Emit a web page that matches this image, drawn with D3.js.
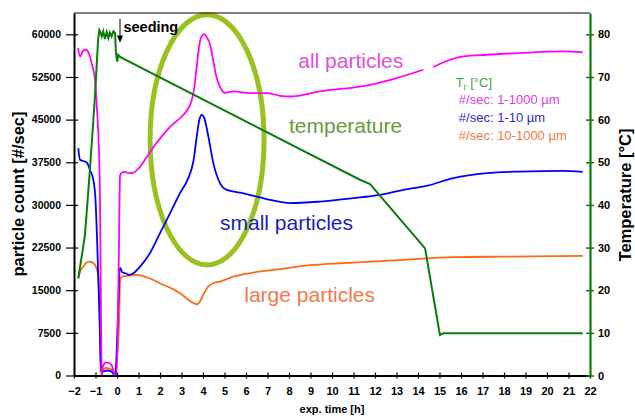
<!DOCTYPE html>
<html>
<head>
<meta charset="utf-8">
<script src="https://cdn.jsdelivr.net/npm/d3@7"></script>
<style>
  html, body { margin: 0; padding: 0; background: #fff; }
  svg { display: block; font-family: "Liberation Sans", Arial, sans-serif; }
</style>
</head>
<body>
<svg id="chart" width="635" height="418"></svg>
<script>
// ---------- data ----------
const xTicks = d3.range(-2, 23, 1);
const leftTicks = [0, 7500, 15000, 22500, 30000, 37500, 45000, 52500, 60000];
const rightTicks = [0, 10, 20, 30, 40, 50, 60, 70, 80];

// all particles (#/sec 1-1000 µm)
const allHours = [-1.81,-1.72,-1.58,-1.44,-1.30,-1.16,-1.02,-0.93,-0.84,-0.79,-0.75,-0.71,-0.65,-0.51,-0.37,-0.23,-0.12,-0.02,0.09,0.14,0.23,0.37,0.56,0.74,1.07,1.40,1.77,2.14,2.47,2.84,3.21,3.44,3.58,3.71,3.81,3.91,4.05,4.19,4.33,4.47,4.60,4.79,5.02,5.40,6.19,6.96,7.58,8.05,9.44,11.77,13.01,14.25,14.45,14.71,15.49,16.11,17.20,18.74,20.76,21.66];
const allCounts = [57590,56110,57110,57290,56580,54650,52000,46730,39690,30890,13290,0,1670,2290,2200,1670,260,0,22090,35110,35690,35820,35590,35640,36700,38510,40570,42330,43740,44970,46380,47960,50250,54350,57640,59400,60020,59400,58170,55530,52890,50780,49720,49950,49670,49670,49190,49070,49950,51130,52310,53770,null,54240,55530,56110,56410,56710,56990,56810];

// small particles (#/sec 1-10 µm)
const smallHours = [-1.80,-1.72,-1.49,-1.38,-1.26,-1.10,-1.00,-0.91,-0.81,-0.74,-0.60,-0.42,-0.23,-0.09,0.07,0.12,0.16,0.23,0.37,0.60,0.76,1.07,1.53,2.00,2.47,2.93,3.30,3.55,3.71,3.83,3.94,4.06,4.25,4.48,4.79,5.10,5.72,6.50,7.12,8.05,9.44,10.99,12.23,13.32,14.40,15.64,17.20,18.74,20.76,21.66];
const smallCounts = [39990,37930,37630,37350,36170,34410,30890,22090,9770,620,790,880,620,0,13290,18570,18920,18220,17990,17690,17990,19150,21510,25030,28550,32070,34580,37630,42030,44970,45850,45270,42030,37350,33830,32650,32170,31470,30890,30310,30590,31190,31770,32650,33350,34710,35590,35870,35990,35820];

// large particles (#/sec 10-1000 µm)
const largeHours = [-1.80,-1.72,-1.57,-1.44,-1.29,-1.16,-1.02,-0.93,-0.87,-0.81,-0.77,-0.72,-0.65,-0.51,-0.37,-0.23,-0.09,0.10,0.14,0.22,0.45,0.92,1.38,2.00,2.93,3.40,3.71,3.81,4.01,4.23,4.48,4.79,5.41,6.34,7.58,8.67,10.99,13.32,15.64,17.97,21.66];
const largeCounts = [17110,18220,19150,19800,20030,19890,19450,18570,17390,11530,2730,0,970,1320,1230,970,0,9770,16500,17390,17510,17690,17280,16230,14470,13110,12530,12760,14170,15580,16230,16510,17390,18090,18690,19270,19850,20330,20800,20910,21030];

// reactor temperature T_r [°C]
const tempHours = [-1.80,-1.63,-1.49,-1.26,-1.02,-0.88,-0.82,-0.79,-0.71,-0.64,-0.56,-0.48,-0.40,-0.33,-0.25,-0.17,-0.09,-0.05,0.01,0.06,0.14,11.30,11.77,14.33,15.02,15.18,21.66];
const tempValues = [22.8,28.3,33.0,48.2,65.8,78.7,81.0,80.7,79.5,80.7,78.9,80.5,79.1,80.4,79.5,80.7,80.3,75.6,73.6,75.2,74.7,45.9,44.9,29.8,9.5,9.9,9.9];

const legendLabels = ["#/sec: 1-1000 \u00b5m", "#/sec: 1-10 \u00b5m", "#/sec: 10-1000 \u00b5m"];

// ---------- layout ----------
const W = 635, H = 418;
const m = { left: 74, right: 45, top: 13, bottom: 42.5 };
const svg = d3.select("#chart");

const x = d3.scaleLinear().domain([-2, 22]).range([m.left, W - m.right]);
const yL = d3.scaleLinear().domain([0, 63750]).range([H - m.bottom, m.top]);
const yR = d3.scaleLinear().domain([0, 85]).range([H - m.bottom, m.top]);

const C = {
  all: "#ff00ff", small: "#0000ff", large: "#ff6a10", temp: "#0a7d0a",
  ellipse: "#99c21f",
  allText: "#dc50dc", smallText: "#1c1cc4", largeText: "#f4784a", tempText: "#6a9a40",
  legT: "#3f9f3f", legAll: "#e040e0", legSmall: "#2a2ad8", legLarge: "#f47a3a"
};

// ---------- ellipse annotation (behind lines) ----------
const ecx = 4.19, ecy = 41450, erx = 2.65, ery = 22000;
svg.append("ellipse")
  .attr("cx", x(ecx)).attr("cy", yL(ecy))
  .attr("rx", x(ecx + erx) - x(ecx)).attr("ry", yL(ecy) - yL(ecy + ery))
  .attr("fill", "none").attr("stroke", C.ellipse).attr("stroke-width", 5);

// ---------- series ----------
function zipSeries(hs, vs) { return hs.map((h, i) => ({ h, v: vs[i] })); }
const lineL = d3.line().defined(d => d.v !== null).x(d => x(d.h)).y(d => yL(d.v)).curve(d3.curveMonotoneX);
const lineR = d3.line().x(d => x(d.h)).y(d => yR(d.v));

svg.append("path").datum(zipSeries(largeHours, largeCounts))
  .attr("d", lineL).attr("fill", "none").attr("stroke", C.large).attr("stroke-width", 1.8);
svg.append("path").datum(zipSeries(smallHours, smallCounts))
  .attr("d", lineL).attr("fill", "none").attr("stroke", C.small).attr("stroke-width", 1.8);
svg.append("path").datum(zipSeries(allHours, allCounts))
  .attr("d", lineL).attr("fill", "none").attr("stroke", C.all).attr("stroke-width", 1.8);
svg.append("path").datum(zipSeries(tempHours, tempValues))
  .attr("d", lineR).attr("fill", "none").attr("stroke", C.temp).attr("stroke-width", 2);

// ---------- frame & axes ----------
svg.append("line").attr("x1", m.left).attr("x2", W - m.right)
  .attr("y1", m.top).attr("y2", m.top).attr("stroke", "#000").attr("stroke-width", 1.2);

const gx = svg.append("g").attr("transform", `translate(0,${H - m.bottom})`)
  .call(d3.axisBottom(x).tickValues(xTicks).tickFormat(d3.format("d")).tickSizeOuter(0));
gx.select(".domain").attr("stroke", "#000").attr("stroke-width", 2);
gx.selectAll(".tick line").attr("y1", -3).attr("y2", 3).attr("stroke", "#000").attr("stroke-width", 1.2);
gx.selectAll(".tick text").attr("y", 19.5).attr("dy", null)
  .style("font-size", "11px").style("font-weight", "bold").attr("fill", "#000");

const gl = svg.append("g").attr("transform", `translate(${m.left},0)`)
  .call(d3.axisLeft(yL).tickValues(leftTicks).tickFormat(d3.format("d")).tickSizeOuter(0));
gl.select(".domain").attr("stroke", "#000").attr("stroke-width", 2);
gl.selectAll(".tick line").attr("x1", -8).attr("x2", 4).attr("stroke", "#000").attr("stroke-width", 1.2);
gl.selectAll(".tick text").attr("x", -13)
  .style("font-size", "10.5px").style("font-weight", "bold").attr("fill", "#000");

const gr = svg.append("g").attr("transform", `translate(${W - m.right},0)`)
  .call(d3.axisRight(yR).tickValues(rightTicks).tickFormat(d3.format("d")).tickSizeOuter(0));
gr.select(".domain").attr("stroke", C.temp).attr("stroke-width", 2.2);
gr.selectAll(".tick line").attr("x1", -4).attr("x2", 4).attr("stroke", C.temp).attr("stroke-width", 1.5);
gr.selectAll(".tick text").attr("x", 8)
  .style("font-size", "11px").style("font-weight", "bold").attr("fill", "#000");

// axis titles
svg.append("text").attr("x", 332).attr("y", 412.5).attr("text-anchor", "middle")
  .style("font-size", "11px").style("font-weight", "bold").text("exp. time [h]");
svg.append("text").attr("transform", "translate(24,194) rotate(-90)").attr("text-anchor", "middle")
  .style("font-size", "16.5px").style("font-weight", "bold").text("particle count [#/sec]");
svg.append("text").attr("transform", "translate(631,195) rotate(-90)").attr("text-anchor", "middle")
  .style("font-size", "16.5px").style("font-weight", "bold").text("Temperature [\u00b0C]");

// ---------- seeding arrow ----------
const sx = x(0.14);
svg.append("line").attr("x1", sx).attr("x2", sx).attr("y1", yL(62740)).attr("y2", yL(59300))
  .attr("stroke", "#000").attr("stroke-width", 1);
svg.append("path")
  .attr("d", `M${sx - 3},${yL(59800)} L${sx + 3},${yL(59800)} L${sx},${yL(58500)} Z`)
  .attr("fill", "#000");
svg.append("text").attr("x", x(0.30)).attr("y", yL(60000) - 2)
  .style("font-size", "14.5px").style("font-weight", "bold").text("seeding");

// ---------- in-plot labels ----------
function label(h, v, txt, color, size) {
  return svg.append("text").attr("x", x(h)).attr("y", yL(v))
    .style("font-size", size + "px").attr("fill", color).text(txt);
}
label(8.43, 54070, "all particles", C.allText, 21);
label(8.00, 42730, "temperature", C.tempText, 21);
label(4.79, 25610, "small particles", C.smallText, 21);
label(5.92, 12990, "large particles", C.largeText, 21);

// legend
const lt = svg.append("text").attr("x", x(15.75)).attr("y", yL(50720))
  .style("font-size", "13px").attr("fill", C.legT);
lt.append("tspan").text("T");
lt.append("tspan").attr("dy", 3).style("font-size", "9px").text("r");
lt.append("tspan").attr("dy", -3).text(" [\u00b0C]");
const legColors = [C.legAll, C.legSmall, C.legLarge];
const legVals = [47780, 44620, 41450];
legendLabels.forEach((t, i) => label(15.9, legVals[i], t, legColors[i], 13));
</script>
</body>
</html>
